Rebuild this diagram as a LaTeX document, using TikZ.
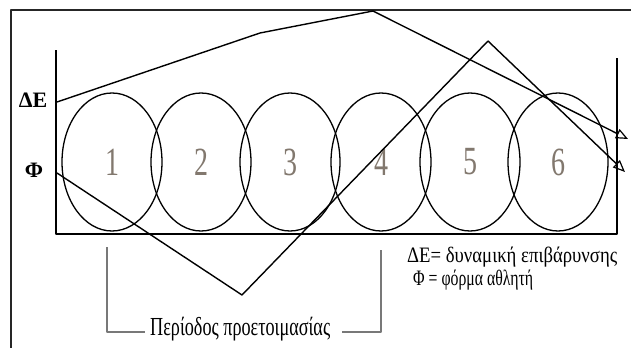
\documentclass[tikz,border=0pt]{standalone}
\usepackage{fontspec}
\setmainfont{Liberation Serif}
\usetikzlibrary{arrows.meta,shapes.geometric}
\definecolor{numc}{RGB}{130,120,110}
\definecolor{brk}{RGB}{120,120,120}
\newcommand\numtxt[1]{\scalebox{0.7}[1]{\fontsize{40}{40}\selectfont #1}}
\begin{document}
\begin{tikzpicture}[x=1pt,y=-1pt,line join=round]
\tikzset{
  frame/.style={line width=1.8pt,black!85},
  axis/.style={line width=1.3pt},
  cyc/.style={draw,ellipse,line width=1.3pt,minimum width=100pt,minimum height=138pt,inner sep=0pt,text=numc},
  curve/.style={line width=1.4pt,-{Triangle[open,length=12pt,width=10pt,line width=1.2pt]}},
  bracket/.style={line width=1.4pt,brk},
  txt/.style={anchor=base west,inner sep=0pt},
  lbl/.style={inner sep=0pt,font=\bfseries\fontsize{22}{22}\selectfont}
}
\useasboundingbox (0,0) rectangle (631,348);
% outer frame
\draw[frame] (631,10) -- (11,10) -- (11,348);
% axes
\coordinate (ytop) at (56,50);
\coordinate (o) at (56,234);
\coordinate (xr) at (617,234);
\coordinate (rtop) at (617,58);
\draw[axis] (ytop) -- (o) -- (xr) -- (rtop);
% cycles
\node[cyc] (c1) at (112,162) {\numtxt{1}};
\node[cyc] (c2) at (201,162) {\numtxt{2}};
\node[cyc] (c3) at (290,162) {\numtxt{3}};
\node[cyc] (c4) at (381,162) {\numtxt{4}};
\node[cyc] (c5) at (470,162) {\numtxt{5}};
\node[cyc] (c6) at (558,162) {\numtxt{6}};
% left labels
\node[lbl] (lde) at (33,100) {ΔE};
\node[lbl] (lphi) at (34,170) {Φ};
% Delta E curve
\coordinate (e0) at (57,102);
\coordinate (e1) at (260,33);
\coordinate (e2) at (373,11);
\coordinate (e3) at (628,139);
\draw[curve] (e0) -- (e1) -- (e2) -- (e3);
% Phi curve
\coordinate (f0) at (57,173);
\coordinate (f1) at (242,295);
\coordinate (f2) at (488,41);
\coordinate (f3) at (625,172);
\draw[curve] (f0) -- (f1) -- (f2) -- (f3);
% legend
\node[txt] (leg1) at (407,262) {\resizebox{210pt}{\height}{\fontsize{22}{22}\selectfont ΔΕ= δυναμική επιβάρυνσης}};
\node[txt] (leg2) at (413,285) {\resizebox{120pt}{\height}{\fontsize{22}{22}\selectfont Φ = φόρμα αθλητή}};
% preparation period
\node[txt] (per) at (150,335) {\resizebox{180pt}{\height}{\fontsize{26}{26}\selectfont Περίοδος προετοιμασίας}};
\coordinate (b0) at (107,247);
\coordinate (b1) at (107,332);
\coordinate (b2) at (145,332);
\coordinate (b3) at (342,332);
\coordinate (b4) at (381,332);
\coordinate (b5) at (381,250);
\draw[bracket] (b0) -- (b1) -- (b2);
\draw[bracket] (b3) -- (b4) -- (b5);
\end{tikzpicture}
\end{document}
